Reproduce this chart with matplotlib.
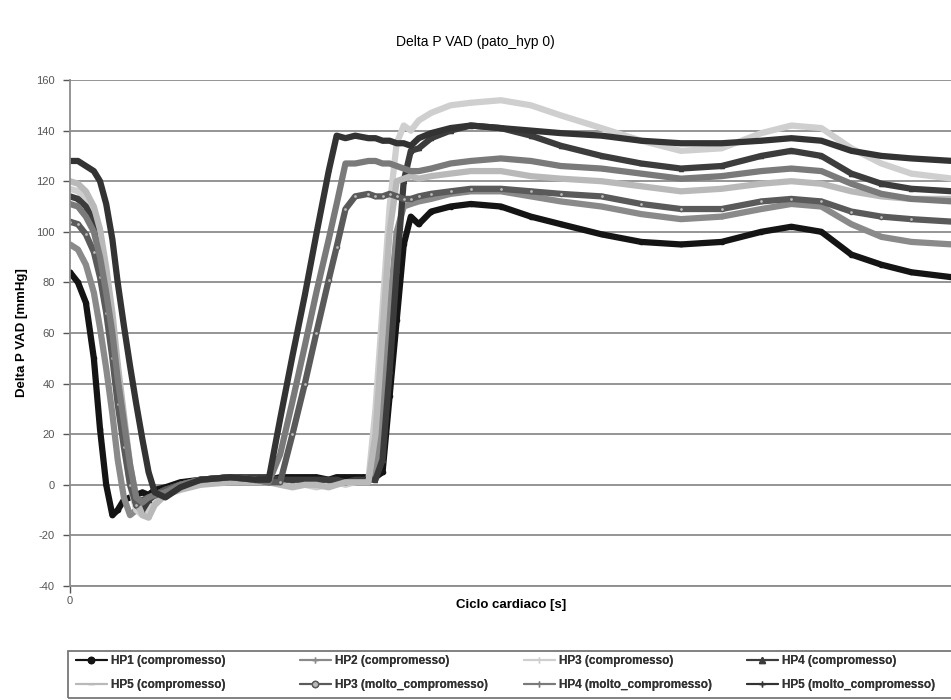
import matplotlib
matplotlib.use("Agg")
import matplotlib.pyplot as plt
from matplotlib.patches import Rectangle

plt.rcParams['font.family'] = ['Liberation Sans', 'DejaVu Sans']
plt.rcParams['axes.unicode_minus'] = False

# Shared time axis (fraction of the cardiac cycle)
t = [0.000, 0.009, 0.018, 0.027, 0.034, 0.041, 0.048, 0.054, 0.061, 0.068,
     0.075, 0.082, 0.089, 0.096, 0.108, 0.125, 0.148, 0.182, 0.210, 0.225,
     0.238, 0.252, 0.266, 0.279, 0.293, 0.302, 0.312, 0.323, 0.338, 0.346,
     0.354, 0.362, 0.370, 0.378, 0.386, 0.395, 0.409, 0.431, 0.454, 0.488,
     0.522, 0.556, 0.602, 0.647, 0.692, 0.738, 0.783, 0.817, 0.851, 0.885,
     0.919, 0.953, 1.000]

hp1_comp = [84, 80, 72, 50, 22, 0, -12, -10, -6, -5,
            -4, -3, -4, -2, -1, 1, 2, 3, 2, 2,
            3, 3, 3, 3, 2, 3, 3, 3, 3, 3,
            5, 35, 65, 95, 106, 103, 108, 110, 111, 110,
            106, 103, 99, 96, 95, 96, 100, 102, 100, 91,
            87, 84, 82]

hp2_comp = [95, 93, 87, 76, 62, 46, 28, 10, -5, -12,
            -10, -8, -6, -4, -2, 0, 2, 2, 2, 2,
            2, 1, 1, 1, 1, 1, 1, 1, 2, 4,
            30, 70, 100, 110, 111, 112, 113, 115, 116, 116,
            114, 112, 110, 107, 105, 106, 109, 111, 110, 103,
            98, 96, 95]

hp3_comp = [117, 116, 113, 106, 96, 80, 62, 40, 18, 0,
            -10, -12, -8, -6, -3, -1, 1, 2, 2, 2,
            1, 0, 0, -1, 0, 1, 0, 1, 2, 30,
            70, 110, 135, 142, 140, 144, 147, 150, 151, 152,
            150, 146, 141, 136, 132, 133, 139, 142, 141, 133,
            127, 123, 121]

hp4_comp = [114, 113, 110, 104, 95, 82, 65, 45, 25, 5,
            -8, -10, -6, -4, -2, 0, 2, 3, 3, 3,
            2, 2, 2, 2, 2, 2, 1, 2, 2, 2,
            10, 45, 85, 120, 132, 133, 137, 140, 142, 141,
            138, 134, 130, 127, 125, 126, 130, 132, 130, 123,
            119, 117, 116]

hp5_comp = [120, 119, 116, 110, 101, 86, 68, 48, 28, 8,
            -6, -12, -13, -8, -4, -2, 0, 1, 1, 1,
            0, -1, 0, 0, -1, 0, 1, 1, 1, 20,
            60, 100, 120, 121, 122, 121, 122, 123, 124, 124,
            122, 121, 120, 118, 116, 117, 119, 120, 119, 116,
            114, 113, 113]

hp3_molto = [104, 103, 99, 92, 82, 68, 50, 32, 15, 0,
             -8, -6, -5, -4, -2, 0, 2, 3, 2, 1,
             1, 20, 40, 60, 81, 94, 109, 114, 115, 114,
             114, 115, 114, 113, 113, 114, 115, 116, 117, 117,
             116, 115, 114, 111, 109, 109, 112, 113, 112, 108,
             106, 105, 104]

hp4_molto = [111, 110, 106, 100, 90, 76, 60, 42, 25, 8,
             -5, -7, -5, -4, -3, 0, 2, 3, 2, 1,
             12, 33, 55, 76, 97, 111, 127, 127, 128, 128,
             127, 127, 126, 125, 124, 124, 125, 127, 128, 129,
             128, 126, 125, 123, 121, 122, 124, 125, 124, 119,
             115, 113, 112]

hp5_molto = [128, 128, 126, 124, 120, 111, 97, 80, 63, 47,
             32, 18, 5, -3, -5, -1, 2, 3, 2, 2,
             26, 51, 75, 99, 124, 138, 137, 138, 137, 137,
             136, 136, 135, 135, 134, 137, 139, 141, 142, 141,
             140, 139, 138, 136, 135, 135, 136, 137, 136, 132,
             130, 129, 128]

labels = ["HP1 (compromesso)", "HP2 (compromesso)", "HP3 (compromesso)",
          "HP4 (compromesso)", "HP5 (compromesso)", "HP3 (molto_compromesso)",
          "HP4 (molto_compromesso)", "HP5 (molto_compromesso)"]
series = [hp1_comp, hp2_comp, hp3_comp, hp4_comp, hp5_comp,
          hp3_molto, hp4_molto, hp5_molto]
colors = ["#141414", "#8a8a8a", "#cfcfcf", "#3c3c3c", "#b9b9b9",
          "#5a5a5a", "#7a7a7a", "#333333"]
markers = ["o", "+", "|", "^", "_", "o", "|", "+"]
mfcs = ["#141414", "#8a8a8a", "#cfcfcf", "#3c3c3c", "#b9b9b9",
        "#bbbbbb", "#7a7a7a", "#333333"]

W, H = 951, 700
fig = plt.figure(figsize=(W / 100, H / 100), dpi=100)
ax = fig.add_axes([70/W, 1-586/H, 1-70/W + 0.002, (586-80)/H])

handles = []
for y, lab, c, m, mfc in zip(series, labels, colors, markers, mfcs):
    h, = ax.plot(t, y, color=c, lw=4.5, marker=m, markersize=3,
                 markerfacecolor=mfc, markeredgecolor=c, label=lab,
                 solid_capstyle='round', solid_joinstyle='round')
    handles.append(h)

ax.set_xlim(0, 1)
ax.set_ylim(-40, 160)
ax.set_yticks(range(-40, 161, 20))
ax.set_xticks([0, 1])
ax.set_xticklabels(["0", "1"])
ax.yaxis.grid(True, color="#8c8c8c", lw=1.3)
ax.set_axisbelow(True)
for s in ["top", "right"]:
    ax.spines[s].set_visible(False)
for s in ["left", "bottom"]:
    ax.spines[s].set_color("#8c8c8c")
    ax.spines[s].set_linewidth(1.3)
ax.tick_params(axis='both', labelsize=8, colors="#555555", length=5,
               width=1, direction='out')
ax.tick_params(axis='y', pad=6)
ax.tick_params(axis='x', pad=2)

ax.set_ylabel("Delta P VAD [mmHg]", fontsize=9.5, fontweight='bold',
              labelpad=6)
ax.set_xlabel("Ciclo cardiaco [s]", fontsize=9.5, fontweight='bold',
              labelpad=-5)
fig.text(0.5, 1-42/H, "Delta P VAD (pato_hyp 0)", ha='center', va='center',
         fontsize=10)

# Legend: 4 columns of equal width, 2 rows, like the reference
columns = [(0, 4), (1, 5), (2, 6), (3, 7)]
col_x = [76, 300, 524, 747]
for (i, j), x0 in zip(columns, col_x):
    lg = fig.legend([handles[i], handles[j]], [labels[i], labels[j]],
                    loc='upper left', bbox_to_anchor=(x0/W, 1-655/H),
                    bbox_transform=fig.transFigure, frameon=False,
                    prop={'size': 8.5, 'weight': 'bold'},
                    handlelength=2.6, handletextpad=0.4, borderpad=0,
                    borderaxespad=0, labelspacing=1.0)
    for t_ in lg.get_texts():
        t_.set_color("#333333")
    for lh in lg.get_lines():
        lh.set_linewidth(1.5)
        lh.set_markersize(4.5)
    fig.add_artist(lg)

fig.add_artist(Rectangle((68/W, 2/H), 1.0, 47/H, transform=fig.transFigure,
                         facecolor='none', edgecolor='#777777', lw=1.3))

fig.savefig("out.png", dpi=100)
